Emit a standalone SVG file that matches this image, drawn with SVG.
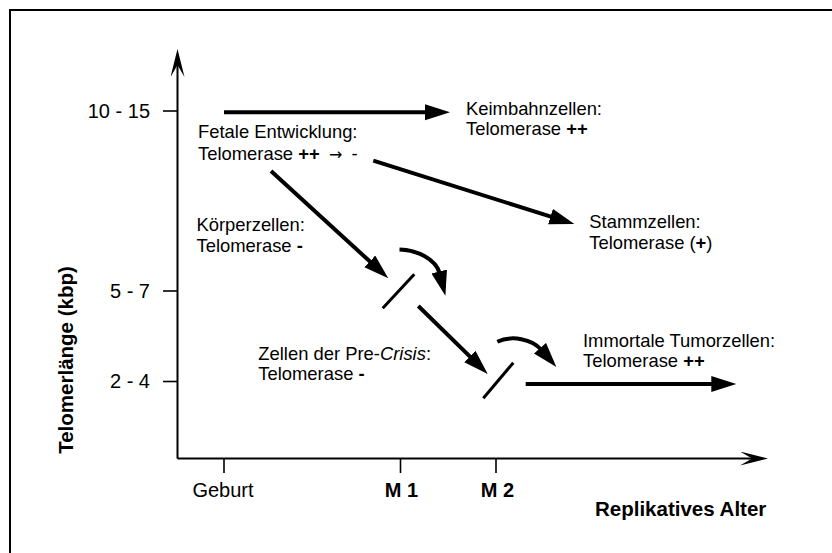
<svg xmlns="http://www.w3.org/2000/svg" width="832" height="553" viewBox="0 0 832 553">
<style>
  text { font-family: "Liberation Sans", Arial, sans-serif; fill: #000; }
  .lbl { font-size: 18.4px; }
  .tick { font-size: 20px; }
  .ttl { font-size: 20.5px; font-weight: bold; }
  .b { font-weight: bold; }
  .arr { fill: none; stroke: #000; stroke-width: 4; marker-end: url(#ah); }
  .ax { fill: none; stroke: #000; stroke-width: 2; }
  .axa { fill: none; stroke: #000; stroke-width: 2; marker-end: url(#axh); }
  .tk { stroke: #000; stroke-width: 1.6; }
  .slash { stroke: #000; stroke-width: 3; }
  .frame { fill: none; stroke: #000; stroke-width: 2; }
  .sym { font-family: "DejaVu Sans", sans-serif; font-size: 16px; }
</style>
<defs>
  <marker id="ah" markerUnits="userSpaceOnUse" markerWidth="30" markerHeight="20" viewBox="0 0 30 20" refX="2" refY="8" orient="auto">
    <path d="M0,0 L25,8 L0,16 Z" fill="#000"/>
  </marker>
  <marker id="axh" markerUnits="userSpaceOnUse" markerWidth="30" markerHeight="16" viewBox="0 0 30 16" refX="12" refY="7" orient="auto">
    <path d="M0,0 L28,7 L0,14 L12,7 Z" fill="#000"/>
  </marker>
</defs>

<path class="frame" d="M10,553 V10 H832"/>

<g id="axes">
  <path class="axa" d="M177.5,458.5 V65"/>
  <path class="axa" d="M177.5,458.5 H752"/>
  <line class="tk" x1="163" y1="111" x2="177.5" y2="111"/>
  <line class="tk" x1="163" y1="291" x2="177.5" y2="291"/>
  <line class="tk" x1="163" y1="381.5" x2="177.5" y2="381.5"/>
  <line class="tk" x1="224" y1="458.5" x2="224" y2="473"/>
  <line class="tk" x1="400.5" y1="458.5" x2="400.5" y2="473"/>
  <line class="tk" x1="496" y1="458.5" x2="496" y2="473"/>
  <text class="tick" x="150" y="117.5" text-anchor="end">10 - 15</text>
  <text class="tick" x="150" y="298" text-anchor="end">5 - 7</text>
  <text class="tick" x="150" y="388" text-anchor="end">2 - 4</text>
  <text class="tick" x="223" y="497" text-anchor="middle">Geburt</text>
  <text class="tick b" x="401.5" y="497" text-anchor="middle">M 1</text>
  <text class="tick b" x="497.5" y="497" text-anchor="middle">M 2</text>
  <text class="ttl" x="595" y="516">Replikatives Alter</text>
  <text class="ttl" transform="translate(73,360) rotate(-90)" text-anchor="middle">Telomerlänge (kbp)</text>
</g>

<g id="connectors">
  <path class="arr" d="M224,112.3 H427"/>
  <path class="arr" d="M373.3,160.7 L552.4,217.1"/>
  <path class="arr" d="M271,171 L371.3,262.8"/>
  <path class="arr" d="M418.3,306 L471.3,357.9"/>
  <path class="arr" d="M525.7,384 H713.3"/>
  <path class="arr" d="M399.5,249.5 C417,250 436,259 439.7,273.5"/>
  <path class="arr" d="M497.3,341.7 C512,335 532,339 541.3,349.7"/>
  <line class="slash" x1="382.7" y1="308.3" x2="414.3" y2="274.3"/>
  <line class="slash" x1="483.3" y1="398.3" x2="513.3" y2="362.7"/>
</g>

<g id="fetal">
  <text class="lbl" x="198" y="137.7">Fetale Entwicklung:</text>
  <text class="lbl" x="198" y="160">Telomerase <tspan class="b">++</tspan><tspan class="sym" x="329">→</tspan><tspan x="351.5">-</tspan></text>
</g>

<g id="keimbahn">
  <text class="lbl" x="466" y="115">Keimbahnzellen:</text>
  <text class="lbl" x="466" y="135">Telomerase <tspan class="b">++</tspan></text>
</g>

<g id="stamm">
  <text class="lbl" x="589.3" y="228.3">Stammzellen:</text>
  <text class="lbl" x="589.3" y="248.7">Telomerase (<tspan class="b">+</tspan>)</text>
</g>

<g id="koerper">
  <text class="lbl" x="196.5" y="231">Körperzellen:</text>
  <text class="lbl" x="196.5" y="251.5">Telomerase <tspan class="b">-</tspan></text>
</g>

<g id="precrisis">
  <text class="lbl" x="258.3" y="359.5">Zellen der Pre-<tspan font-style="italic">Crisis</tspan>:</text>
  <text class="lbl" x="258.3" y="380">Telomerase <tspan class="b">-</tspan></text>
</g>

<g id="tumor">
  <text class="lbl" x="583" y="346.5">Immortale Tumorzellen:</text>
  <text class="lbl" x="583" y="367">Telomerase <tspan class="b">++</tspan></text>
</g>
</svg>
